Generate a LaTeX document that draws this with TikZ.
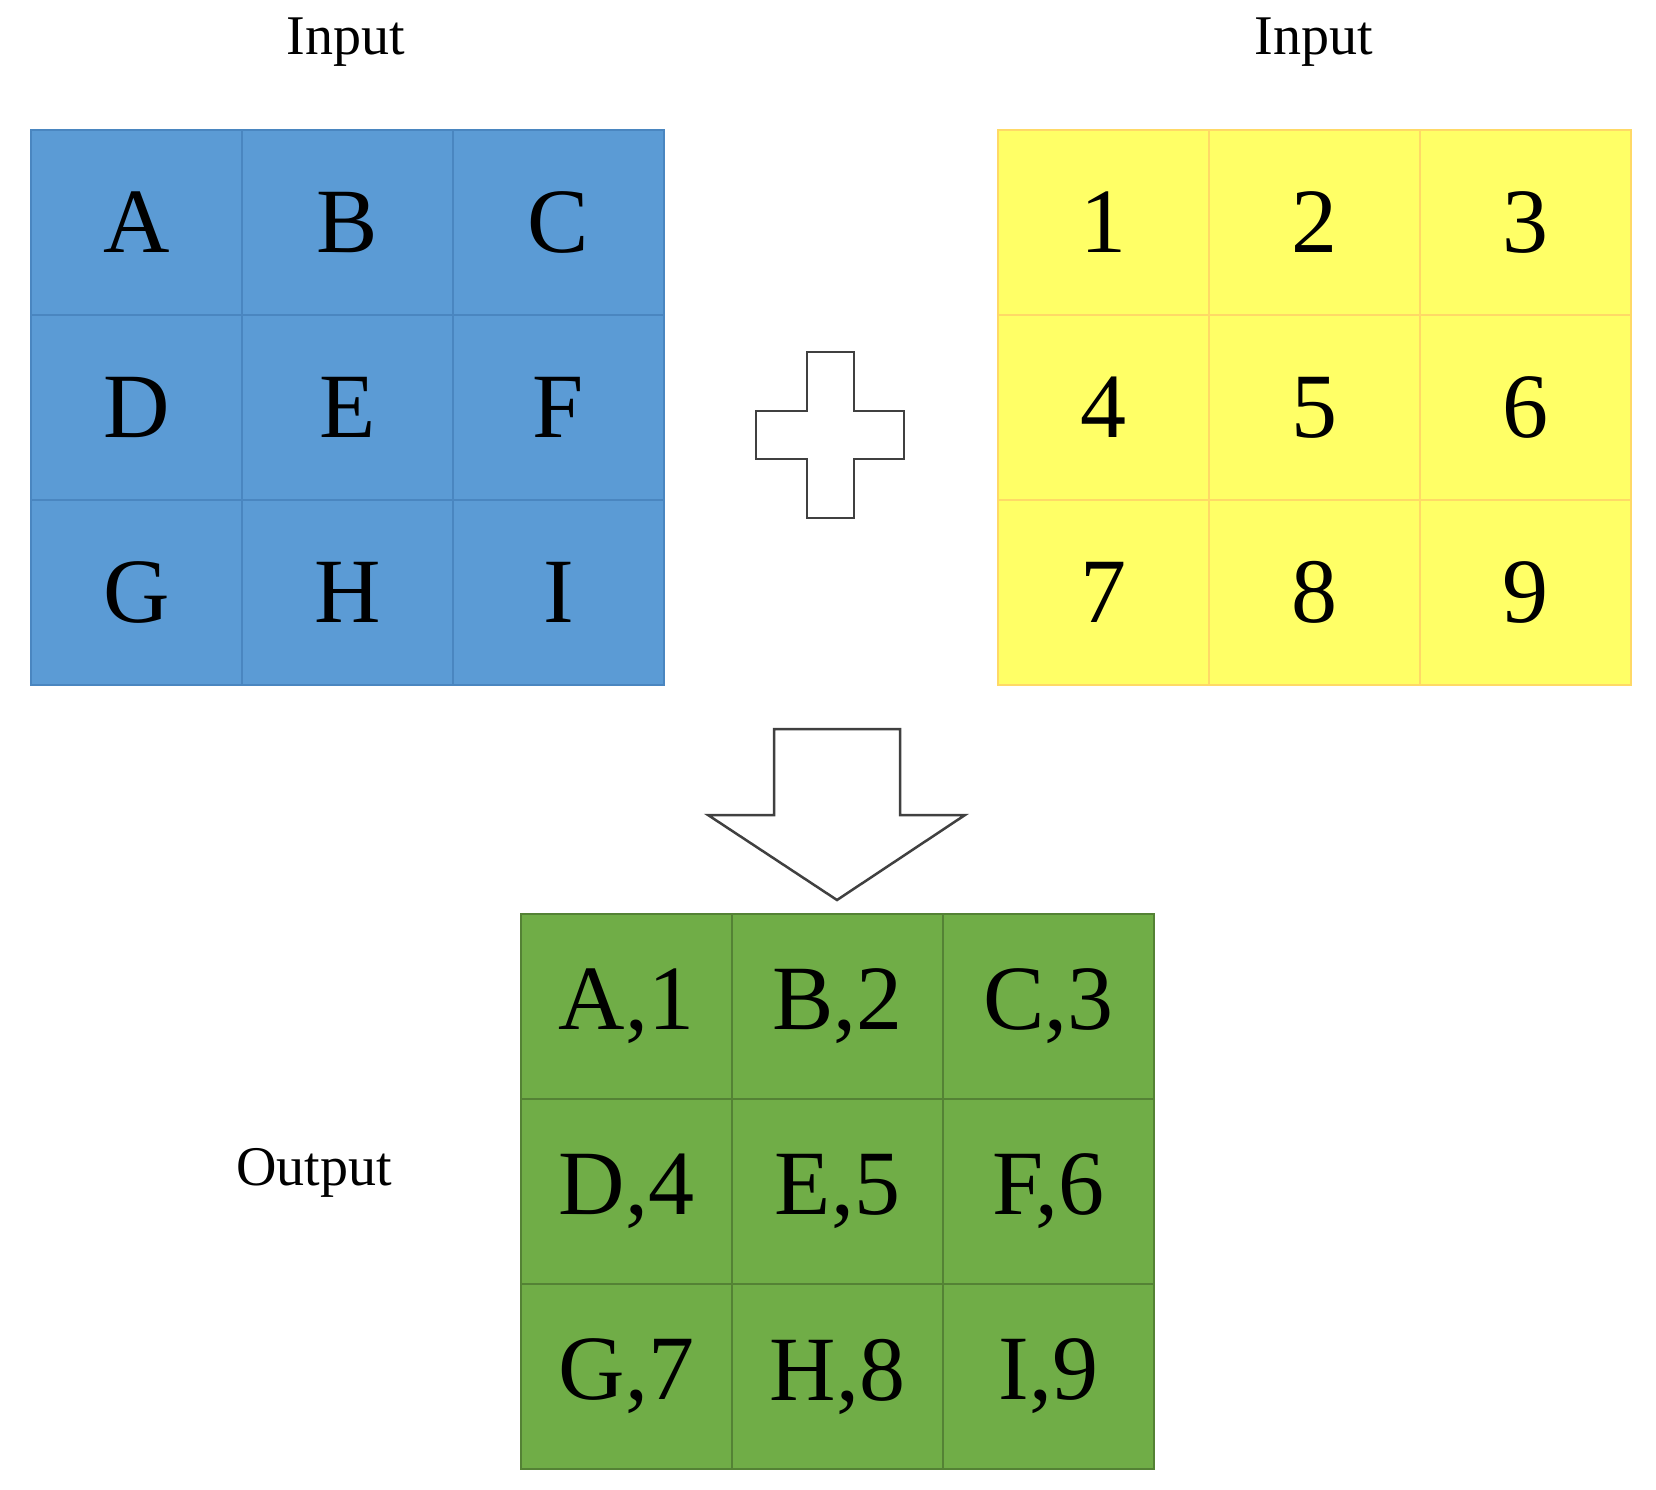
\documentclass[tikz,border=0pt]{standalone}
\usepackage{fontspec}
\setmainfont{Liberation Serif}
\definecolor{bfill}{HTML}{5B9BD5}\definecolor{bline}{HTML}{4A86C0}
\definecolor{yfill}{HTML}{FFFF66}\definecolor{yline}{HTML}{FFD966}
\definecolor{gfill}{HTML}{70AD47}\definecolor{gline}{HTML}{548235}
\begin{document}
\begin{tikzpicture}[x=1pt,y=-1pt,
  bcell/.style={draw=bline,fill=bfill,line width=2pt,minimum width=211pt,minimum height=185pt,inner sep=0pt,font=\fontsize{92}{92}\selectfont,anchor=north west},
  ycell/.style={bcell,draw=yline,fill=yfill},
  gcell/.style={bcell,draw=gline,fill=gfill},
  lbl/.style={font=\fontsize{56}{56}\selectfont},
  outl/.style={draw=black!75,line width=2.5pt,fill=white}]
\useasboundingbox (0,0) rectangle (1656,1490);
\foreach \r/\a/\b/\c [count=\i from 0] in {0/A/B/C,1/D/E/F,2/G/H/I}{
  \node[bcell] (b\i a) at (30,129+185*\i) {\a};
  \node[bcell] (b\i b) at (241,129+185*\i) {\b};
  \node[bcell] (b\i c) at (452,129+185*\i) {\c};
}
\foreach \a/\b/\c [count=\i from 0] in {1/2/3,4/5/6,7/8/9}{
  \node[ycell] (y\i a) at (997,129+185*\i) {\a};
  \node[ycell] (y\i b) at (1208,129+185*\i) {\b};
  \node[ycell] (y\i c) at (1419,129+185*\i) {\c};
}
\foreach \a/\b/\c [count=\i from 0] in {A,1/B,2/C,3,D,4/E,5/F,6,G,7/H,8/I,9}{}
\node[gcell] (g0a) at (520,913) {A,1};
\node[gcell] (g0b) at (731,913) {B,2};
\node[gcell] (g0c) at (942,913) {C,3};
\node[gcell] (g1a) at (520,1098) {D,4};
\node[gcell] (g1b) at (731,1098) {E,5};
\node[gcell] (g1c) at (942,1098) {F,6};
\node[gcell] (g2a) at (520,1283) {G,7};
\node[gcell] (g2b) at (731,1283) {H,8};
\node[gcell] (g2c) at (942,1283) {I,9};
\node[lbl] (in1) at (346,42) {Input};
\node[lbl] (in2) at (1314,42) {Input};
\node[lbl] (out) at (314,1173) {Output};
\draw[outl] (807,352) -- (854,352) -- (854,411) -- (904,411) -- (904,459) -- (854,459) -- (854,518) -- (807,518) -- (807,459) -- (756,459) -- (756,411) -- (807,411) -- cycle;
\draw[outl] (774,729) -- (900,729) -- (900,815) -- (965,815) -- (837,900) -- (708,815) -- (774,815) -- cycle;
\end{tikzpicture}
\end{document}
